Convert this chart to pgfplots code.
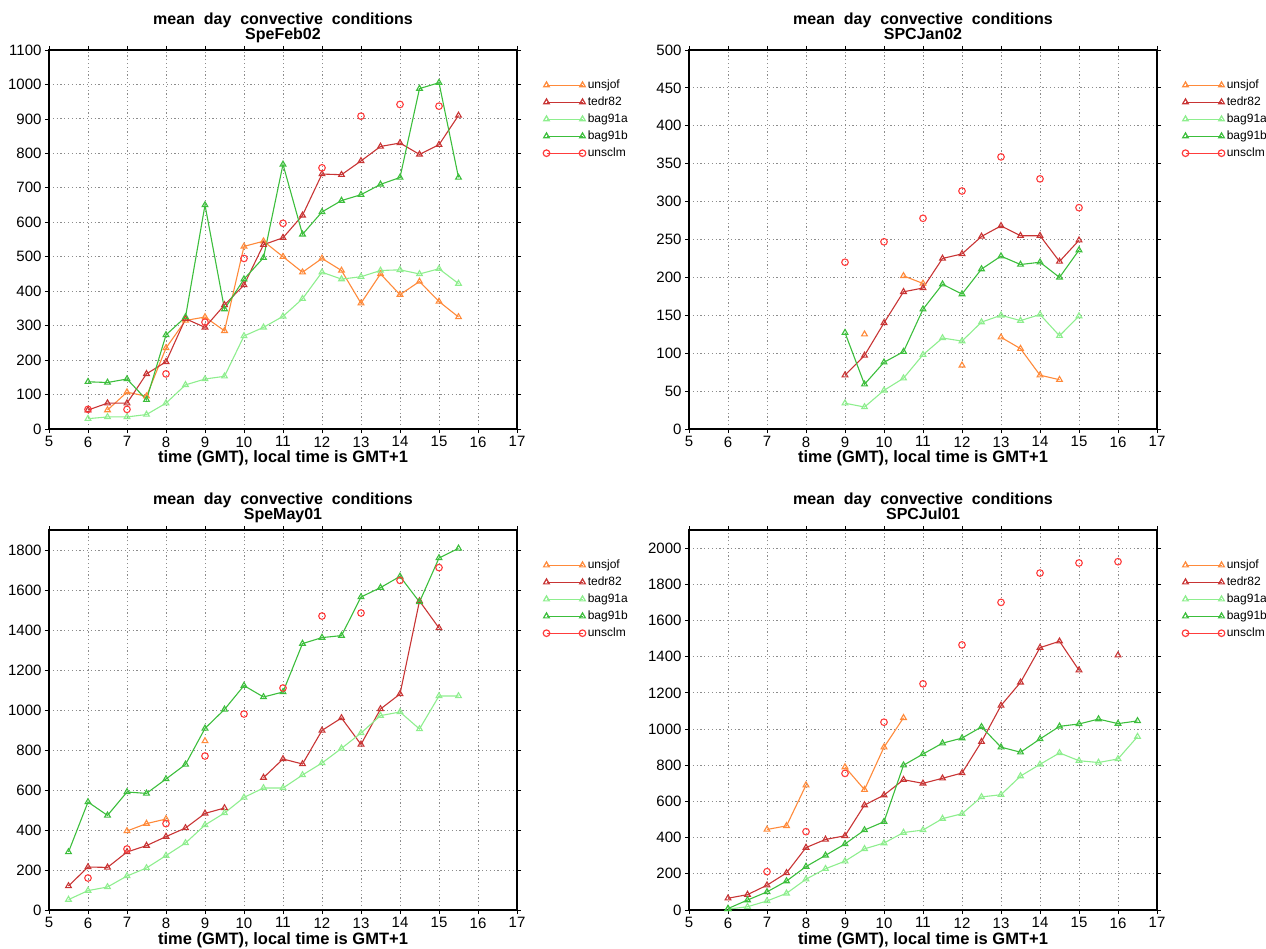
\documentclass[border=0pt]{standalone}
\usepackage{fontspec}
\setmainfont{Liberation Sans}
\usepackage{pgfplots}
\pgfplotsset{compat=1.18}

\definecolor{cunsjof}{HTML}{FF8A3A}
\definecolor{ctedr}{HTML}{C83434}
\definecolor{cbaga}{HTML}{8EEE8E}
\definecolor{cbagb}{HTML}{3CBE3C}
\definecolor{cunsclm}{HTML}{FF3C3C}

\pgfplotsset{
  panel/.style={
    scale only axis, width=468pt, height=379pt,
    xmin=5, xmax=17, ymin=0, xtick={5,...,17},
    grid=major,
    major grid style={black!45, dash pattern=on 1.2pt off 2.6pt, line width=0.9pt},
    axis line style={line width=1.6pt},
    tick align=outside, major tick length=4pt,
    tick style={black, line width=0.8pt},
    ticklabel style={font=\fontsize{15}{15}\selectfont},
    /pgf/number format/assume math mode=true,
    /pgf/number format/1000 sep={},
    scaled y ticks=false,
    unbounded coords=jump,
    title style={font=\fontsize{16}{15}\selectfont\bfseries, align=center,
      anchor=south, at={(0.5,1)}, yshift=-0.5pt, inner sep=0pt},
    xlabel={time (GMT), local time is GMT+1},
    xlabel style={font=\fontsize{16.5}{16}\selectfont\bfseries, at={(0.5,0)},
      anchor=base, inner sep=0pt},
    legend style={at={(1,1)}, anchor=north west, xshift=23pt, yshift=-27pt,
      draw=none, fill=none, font=\fontsize{12}{12}\selectfont, row sep=5pt,
      nodes={inner sep=0pt, text height=9pt, text depth=3pt},
      /tikz/every odd column/.append style={column sep=2pt}},
    legend cell align=left,
    legend image code/.code={\draw[line width=1.2pt] plot coordinates {(0pt,0pt) (36pt,0pt)};},
    every axis plot/.append style={line width=1.1pt, mark options={solid}},
  },
  unsjof/.style={color=cunsjof, mark=triangle, mark size=3.3pt},
  tedr/.style={color=ctedr, mark=triangle, mark size=3.3pt},
  baga/.style={color=cbaga, mark=triangle, mark size=3.3pt},
  bagb/.style={color=cbagb, mark=triangle, mark size=3.3pt},
  unsclm/.style={color=cunsclm, mark=o, mark size=3.3pt},
}

\begin{document}
\begin{tikzpicture}
\path[use as bounding box] (0,0) rectangle (1266pt,-949pt);

% ---------------- SpeFeb02 ----------------
\begin{axis}[panel, at={(49pt,-429pt)}, anchor=south west,
  ymax=1100, ytick={0,100,...,1100},
  xlabel style={yshift=-33pt},
  title={mean\ \ day\ \ convective\ \ conditions\\SpeFeb02\strut}]
\addplot[unsjof] coordinates {(6.5,55) (7,107) (7.5,95) (8,235) (8.5,315) (9,325) (9.5,285) (10,530) (10.5,545) (11,500) (11.5,455) (12,495) (12.5,460) (13,365) (13.5,450) (14,390) (14.5,428) (15,370) (15.5,325)};
\addplot[tedr] coordinates {(6,55) (6.5,75) (7,75) (7.5,160) (8,195) (8.5,320) (9,295) (9.5,360) (10,418) (10.5,535) (11,555) (11.5,620) (12,740) (12.5,738) (13,778) (13.5,820) (14,830) (14.5,797) (15,825) (15.5,910)};
\addplot[baga] coordinates {(6,30) (6.5,35) (7,35) (7.5,42) (8,75) (8.5,128) (9,145) (9.5,153) (10,270) (10.5,295) (11,327) (11.5,378) (12,455) (12.5,435) (13,442) (13.5,460) (14,462) (14.5,450) (15,465) (15.5,422)};
\addplot[bagb] coordinates {(6,137) (6.5,135) (7,145) (7.5,85) (8,273) (8.5,325) (9,650) (9.5,348) (10,435) (10.5,497) (11,768) (11.5,565) (12,630) (12.5,663) (13,680) (13.5,710) (14,730) (14.5,988) (15,1005) (15.5,730)};
\addplot[unsclm] coordinates {(6,57) (6.5,nan) (7,57) (7.5,nan) (8,160) (8.5,nan) (9,310) (9.5,nan) (10,495) (10.5,nan) (11,597) (11.5,nan) (12,758) (12.5,nan) (13,908) (13.5,nan) (14,942) (14.5,nan) (15,937)};
\legend{unsjof,tedr82,bag91a,bag91b,unsclm}
\end{axis}

% ---------------- SPCJan02 ----------------
\begin{axis}[panel, at={(689pt,-429pt)}, anchor=south west,
  ymax=500, ytick={0,50,...,500},
  xlabel style={yshift=-33pt},
  legend style={xshift=-1pt},
  title={mean\ \ day\ \ convective\ \ conditions\\SPCJan02\strut}]
\addplot[unsjof] coordinates {(9.5,125) (10,nan) (10.5,202) (11,192) (11.5,nan) (12,84) (12.5,nan) (13,121) (13.5,106) (14,71) (14.5,65)};
\addplot[tedr] coordinates {(9,71) (9.5,97) (10,140) (10.5,181) (11,186) (11.5,225) (12,231) (12.5,254) (13,268) (13.5,255) (14,255) (14.5,221) (15,249)};
\addplot[baga] coordinates {(9,34) (9.5,29) (10,51) (10.5,67) (11,98) (11.5,120) (12,116) (12.5,141) (13,150) (13.5,143) (14,151) (14.5,123) (15,149)};
\addplot[bagb] coordinates {(9,127) (9.5,59) (10,88) (10.5,102) (11,158) (11.5,191) (12,178) (12.5,211) (13,228) (13.5,217) (14,220) (14.5,200) (15,236)};
\addplot[unsclm] coordinates {(9,220) (9.5,nan) (10,247) (10.5,nan) (11,278) (11.5,nan) (12,314) (12.5,nan) (13,359) (13.5,nan) (14,330) (14.5,nan) (15,292)};
\legend{unsjof,tedr82,bag91a,bag91b,unsclm}
\end{axis}

% ---------------- SpeMay01 ----------------
\begin{axis}[panel, at={(49pt,-910pt)}, anchor=south west, height=380pt,
  ymax=1900, ytick={0,200,...,1800},
  xlabel style={yshift=-34pt},
  title={mean\ \ day\ \ convective\ \ conditions\\SpeMay01\strut}]
\addplot[unsjof] coordinates {(7,395) (7.5,432) (8,455) (8.5,nan) (9,845)};
\addplot[tedr] coordinates {(5.5,120) (6,215) (6.5,213) (7,290) (7.5,322) (8,367) (8.5,410) (9,483) (9.5,510) (10,nan) (10.5,662) (11,755) (11.5,730) (12,898) (12.5,960) (13,828) (13.5,1005) (14,1080) (14.5,1545) (15,1410)};
\addplot[baga] coordinates {(5.5,52) (6,97) (6.5,115) (7,170) (7.5,210) (8,272) (8.5,335) (9,425) (9.5,485) (10,563) (10.5,610) (11,610) (11.5,675) (12,735) (12.5,808) (13,885) (13.5,972) (14,990) (14.5,905) (15,1070) (15.5,1070)};
\addplot[bagb] coordinates {(5.5,290) (6,540) (6.5,473) (7,590) (7.5,583) (8,655) (8.5,728) (9,908) (9.5,1003) (10,1122) (10.5,1065) (11,1090) (11.5,1332) (12,1362) (12.5,1372) (13,1565) (13.5,1612) (14,1668) (14.5,1540) (15,1760) (15.5,1808)};
\addplot[unsclm] coordinates {(6,160) (6.5,nan) (7,305) (7.5,nan) (8,432) (8.5,nan) (9,770) (9.5,nan) (10,980) (10.5,nan) (11,1110) (11.5,nan) (12,1470) (12.5,nan) (13,1485) (13.5,nan) (14,1648) (14.5,nan) (15,1712)};
\legend{unsjof,tedr82,bag91a,bag91b,unsclm}
\end{axis}

% ---------------- SPCJul01 ----------------
\begin{axis}[panel, at={(689pt,-910pt)}, anchor=south west, height=380pt,
  ymax=2100, ytick={0,200,...,2000},
  xlabel style={yshift=-34pt},
  legend style={xshift=-1pt},
  title={mean\ \ day\ \ convective\ \ conditions\\SPCJul01\strut}]
\addplot[unsjof] coordinates {(7,445) (7.5,465) (8,690) (8.5,nan) (9,790) (9.5,665) (10,900) (10.5,1062)};
\addplot[tedr] coordinates {(6,65) (6.5,85) (7,137) (7.5,205) (8,345) (8.5,390) (9,410) (9.5,580) (10,635) (10.5,720) (11,700) (11.5,728) (12,757) (12.5,930) (13,1130) (13.5,1258) (14,1450) (14.5,1485) (15,1325) (15.5,nan) (16,1408)};
\addplot[baga] coordinates {(6,5) (6.5,18) (7,50) (7.5,92) (8,170) (8.5,228) (9,270) (9.5,338) (10,370) (10.5,428) (11,442) (11.5,505) (12,532) (12.5,625) (13,637) (13.5,740) (14,805) (14.5,868) (15,825) (15.5,815) (16,835) (16.5,958)};
\addplot[bagb] coordinates {(6,8) (6.5,55) (7,100) (7.5,160) (8,240) (8.5,302) (9,365) (9.5,442) (10,488) (10.5,800) (11,862) (11.5,922) (12,950) (12.5,1012) (13,900) (13.5,872) (14,945) (14.5,1015) (15,1028) (15.5,1055) (16,1030) (16.5,1045)};
\addplot[unsclm] coordinates {(7,212) (7.5,nan) (8,433) (8.5,nan) (9,755) (9.5,nan) (10,1038) (10.5,nan) (11,1250) (11.5,nan) (12,1465) (12.5,nan) (13,1700) (13.5,nan) (14,1862) (14.5,nan) (15,1918) (15.5,nan) (16,1925)};
\legend{unsjof,tedr82,bag91a,bag91b,unsclm}
\end{axis}
\end{tikzpicture}
\end{document}
